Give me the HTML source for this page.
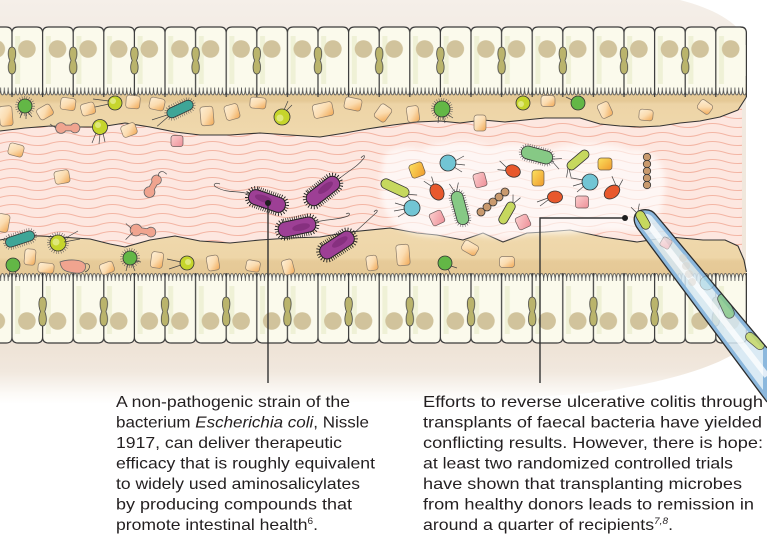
<!DOCTYPE html>
<html><head><meta charset="utf-8">
<style>
html,body{margin:0;padding:0;background:#fff;width:767px;height:555px;overflow:hidden}
svg{display:block}
.t{font-family:"Liberation Sans",Arial,sans-serif;font-size:15.8px;fill:#231f20}
.p{fill:url(#pg);stroke:#8a7a68;stroke-width:.7}
.pk{fill:url(#pkg);stroke:#6a5a5a;stroke-width:.7}
.ys{fill:url(#ysg);stroke:#6a5a4a;stroke-width:.7}
.fl{fill:none;stroke:#444;stroke-width:.7}
.hr{fill:none;stroke:#555;stroke-width:3;stroke-dasharray:.5 1.8}
.ol{stroke:#333;stroke-width:.8}
</style></head><body>
<svg width="767" height="555" viewBox="0 0 767 555" xmlns="http://www.w3.org/2000/svg">
<defs>
<linearGradient id="bg" gradientUnits="userSpaceOnUse" x1="0" y1="0" x2="0" y2="404">
<stop offset="0" stop-color="#f5efe9"/>
<stop offset="0.1" stop-color="#f2ebe3"/>
<stop offset="0.855" stop-color="#eee3d6"/>
<stop offset="0.92" stop-color="#f1e8de"/>
<stop offset="0.975" stop-color="#fcfaf7"/>
<stop offset="1" stop-color="#ffffff"/>
</linearGradient>
<linearGradient id="mt" gradientUnits="userSpaceOnUse" x1="0" y1="84" x2="0" y2="140">
<stop offset="0" stop-color="#e3c793"/>
<stop offset="0.3" stop-color="#e5c996"/>
<stop offset="0.36" stop-color="#edd4a6"/>
<stop offset="1" stop-color="#f0d9ae"/>
</linearGradient>
<linearGradient id="mb" gradientUnits="userSpaceOnUse" x1="0" y1="228" x2="0" y2="285">
<stop offset="0" stop-color="#f0d9ae"/>
<stop offset="0.52" stop-color="#eed6a8"/>
<stop offset="0.58" stop-color="#e7cb99"/>
<stop offset="1" stop-color="#e3c693"/>
</linearGradient>
<linearGradient id="pg" x1="0" y1="0" x2="1" y2="1">
<stop offset="0" stop-color="#fdefd6"/>
<stop offset="0.5" stop-color="#fbdcb0"/>
<stop offset="1" stop-color="#f1a752"/>
</linearGradient>
<linearGradient id="pkg" x1="0" y1="0" x2="1" y2="1">
<stop offset="0" stop-color="#fbd0cf"/>
<stop offset="1" stop-color="#ee8f98"/>
</linearGradient>
<linearGradient id="ysg" x1="0" y1="0" x2="1" y2="1">
<stop offset="0" stop-color="#fbe260"/>
<stop offset="1" stop-color="#f09a2c"/>
</linearGradient>
<pattern id="wv" patternUnits="userSpaceOnUse" x="0" y="112" width="50" height="9">
<path d="M0,4.5 Q12.5,0.5 25,4.5 T50,4.5" fill="none" stroke="#f3b5a4" stroke-width="1.1"/>
</pattern>
<pattern id="tc" patternUnits="userSpaceOnUse" x="-3.3" y="0" width="61.2" height="400">
<path fill="#fbfaec" d="M0,27 L9.3,27 Q15.3,27 15.3,33 Q15.3,27 21.3,27 L39.9,27 Q45.9,27 45.9,33 Q45.9,27 51.9,27 L61.2,27 L61.2,88 L0,88 Z"/>
<rect x="18.5" y="36" width="5" height="48" fill="#eff1d6"/>
<rect x="49.1" y="36" width="5" height="48" fill="#eff1d6"/>
<circle cx="30.2" cy="49" r="8.8" fill="#d1c39c"/>
<circle cx="-0.4" cy="49" r="8.8" fill="#d1c39c"/>
<circle cx="60.8" cy="49" r="8.8" fill="#d1c39c"/>
<path fill="#fbfaec" stroke="#555" stroke-width=".8" d="M0,87.5 c0,10 3.825,10 3.825,0 c0,10 3.825,10 3.825,0 c0,10 3.825,10 3.825,0 c0,10 3.825,10 3.825,0 c0,10 3.825,10 3.825,0 c0,10 3.825,10 3.825,0 c0,10 3.825,10 3.825,0 c0,10 3.825,10 3.825,0 c0,10 3.825,10 3.825,0 c0,10 3.825,10 3.825,0 c0,10 3.825,10 3.825,0 c0,10 3.825,10 3.825,0 c0,10 3.825,10 3.825,0 c0,10 3.825,10 3.825,0 c0,10 3.825,10 3.825,0 c0,10 3.825,10 3.825,0"/>
<path fill="none" stroke="#3a3a3a" stroke-width="1.2" d="M0,27 L9.3,27 Q15.3,27 15.3,33 Q15.3,27 21.3,27 L39.9,27 Q45.9,27 45.9,33 Q45.9,27 51.9,27 L61.2,27 M15.3,33 L15.3,97 M45.9,33 L45.9,97"/>
<path fill="#bab46c" stroke="#444" stroke-width=".8" d="M15.3,47 C19.5,47 20,55 17.5,60.5 C20,66 19.5,74 15.3,74 C11.1,74 10.6,66 13.1,60.5 C10.6,55 11.1,47 15.3,47 Z"/>
</pattern>
<pattern id="bc" patternUnits="userSpaceOnUse" x="-3.3" y="0" width="61.2" height="400">
<path fill="#fbfaec" d="M0,281 L61.2,281 L61.2,343 L51.9,343 Q45.9,343 45.9,337 Q45.9,343 39.9,343 L21.3,343 Q15.3,343 15.3,337 Q15.3,343 9.3,343 L0,343 Z"/>
<rect x="18.5" y="286" width="5" height="48" fill="#eff1d6"/>
<rect x="49.1" y="286" width="5" height="48" fill="#eff1d6"/>
<circle cx="30.2" cy="321" r="8.8" fill="#d1c39c"/>
<circle cx="-0.4" cy="321" r="8.8" fill="#d1c39c"/>
<circle cx="60.8" cy="321" r="8.8" fill="#d1c39c"/>
<path fill="#fbfaec" stroke="#555" stroke-width=".8" d="M0,281 c0,-10 3.825,-10 3.825,0 c0,-10 3.825,-10 3.825,0 c0,-10 3.825,-10 3.825,0 c0,-10 3.825,-10 3.825,0 c0,-10 3.825,-10 3.825,0 c0,-10 3.825,-10 3.825,0 c0,-10 3.825,-10 3.825,0 c0,-10 3.825,-10 3.825,0 c0,-10 3.825,-10 3.825,0 c0,-10 3.825,-10 3.825,0 c0,-10 3.825,-10 3.825,0 c0,-10 3.825,-10 3.825,0 c0,-10 3.825,-10 3.825,0 c0,-10 3.825,-10 3.825,0 c0,-10 3.825,-10 3.825,0 c0,-10 3.825,-10 3.825,0"/>
<path fill="none" stroke="#3a3a3a" stroke-width="1.2" d="M0,343 L9.3,343 Q15.3,343 15.3,337 Q15.3,343 21.3,343 L39.9,343 Q45.9,343 45.9,337 Q45.9,343 51.9,343 L61.2,343 M15.3,273 L15.3,337 M45.9,273 L45.9,337"/>
<path fill="#bab46c" stroke="#444" stroke-width=".8" d="M45.9,297 C50.1,297 50.6,305 48.1,311.5 C50.6,318 50.1,326 45.9,326 C41.7,326 41.2,318 43.7,311.5 C41.2,305 41.7,297 45.9,297 Z"/>
</pattern>
<filter id="bl" x="-10%" y="-20%" width="120%" height="140%"><feGaussianBlur stdDeviation="3"/></filter>
<clipPath id="ndc"><path d="M656,215 L767,348 L767,402 L638,229 C632,221 633,212 642,210 C648,209 653,211 656,215 Z"/></clipPath>
</defs>

<!-- background tissue -->
<path d="M0,0 L680,0 C712,8 738,22 746,40 L746,345 C728,362 680,380 600,392 C500,402 300,404 0,404 Z" fill="url(#bg)"/>

<!-- lumen -->
<rect x="0" y="108" width="742" height="145" fill="#fde7e0"/>
<rect x="0" y="108" width="742" height="145" fill="url(#wv)"/>

<!-- top mucus -->
<path fill="url(#mt)" d="M0,84 L746.4,84 L746.4,97 L738,110 L720,117 L700,121 L680,123 L660,126 L640,127 L620,126 L600,124 L580,118 L545,118 L525,120 L505,122 L483,120 L460,123 L440,121 L417,122 L393,125 L367,129 L345,133 L320,137 L290,135 L260,133 L230,135 L200,135 L175,132 L150,127 L125,123 L100,127 L75,127 L50,126 L25,128 L0,131 Z"/>
<path fill="none" stroke="#333" stroke-width="1.1" stroke-linejoin="round" d="M746.4,97 L738,110 L720,117 L700,121 L680,123 L660,126 L640,127 L620,126 L600,124 L580,118 L545,118 L525,120 L505,122 L483,120 L460,123 L440,121 L417,122 L393,125 L367,129 L345,133 L320,137 L290,135 L260,133 L230,135 L200,135 L175,132 L150,127 L125,123 L100,127 L75,127 L50,126 L25,128 L0,131"/>

<!-- bottom mucus -->
<path fill="url(#mb)" d="M0,240 L20,236 L40,236 L60,237 L90,239 L110,244 L125,247 L150,240 L175,236 L200,241 L230,243 L260,240 L290,238 L320,237 L350,232 L390,228 L417,233 L437,235 L463,240 L483,233 L503,242 L527,233 L545,232 L570,230 L603,237 L637,242 L670,237 L703,240 L725,240 L738,246 L744,260 L746.4,272 L746.4,285 L0,285 Z"/>
<path fill="none" stroke="#333" stroke-width="1.1" stroke-linejoin="round" d="M0,240 L20,236 L40,236 L60,237 L90,239 L110,244 L125,247 L150,240 L175,236 L200,241 L230,243 L260,240 L290,238 L320,237 L350,232 L390,228 L417,233 L437,235 L463,240 L483,233 L503,242 L527,233 L545,232 L570,230 L603,237 L637,242 L670,237 L703,240 L725,240 L738,246 L744,260 L746.4,272"/>

<!-- cells -->
<rect x="0" y="20" width="745.8" height="80" fill="url(#tc)"/>
<rect x="741.5" y="45" width="4.5" height="31" fill="#fbfaec"/>
<path d="M740.4,27 Q746.4,27 746.4,33 L746.4,97" fill="none" stroke="#3a3a3a" stroke-width="1.2"/>
<rect x="0" y="268" width="745.8" height="80" fill="url(#bc)"/>
<path d="M746.4,273 L746.4,337 Q746.4,343 740.4,343" fill="none" stroke="#3a3a3a" stroke-width="1.2"/>

<!-- particles -->
<g>
<rect class="p" x="-6.5" y="-10" width="13" height="20" rx="3" transform="translate(6 116) rotate(-5)"/>
<rect class="p" x="-7.5" y="-6" width="15" height="12" rx="3" transform="translate(45 112) rotate(-30)"/>
<rect class="p" x="-7.5" y="-6" width="15" height="12" rx="3" transform="translate(68 104) rotate(8)"/>
<rect class="p" x="-7" y="-6" width="14" height="12" rx="3" transform="translate(88 109) rotate(-15)"/>
<rect class="p" x="-7" y="-6.5" width="14" height="13" rx="3" transform="translate(133 102) rotate(5)"/>
<rect class="p" x="-7.5" y="-6" width="15" height="12" rx="3" transform="translate(157 104) rotate(12)"/>
<rect class="p" x="-7.5" y="-6" width="15" height="12" rx="3" transform="translate(129 130) rotate(-20)"/>
<rect class="p" x="-6.5" y="-9.5" width="13" height="19" rx="3" transform="translate(207 116) rotate(-5)"/>
<rect class="p" x="-7" y="-7.5" width="14" height="15" rx="3" transform="translate(232 112) rotate(-15)"/>
<rect class="p" x="-8" y="-5.5" width="16" height="11" rx="3" transform="translate(258 103) rotate(5)"/>
<rect class="p" x="-10" y="-7" width="20" height="14" rx="3" transform="translate(323 110) rotate(-12)"/>
<rect class="p" x="-8.5" y="-6" width="17" height="12" rx="3" transform="translate(353 104) rotate(12)"/>
<rect class="p" x="-6.5" y="-8" width="13" height="16" rx="3" transform="translate(383 113) rotate(35)"/>
<rect class="p" x="-6" y="-8" width="12" height="16" rx="3" transform="translate(413 114) rotate(-8)"/>
<rect class="p" x="-6" y="-8" width="12" height="16" rx="3" transform="translate(480 123)"/>
<rect class="p" x="-7" y="-5.5" width="14" height="11" rx="3" transform="translate(548 101)"/>
<rect class="p" x="-6" y="-7.5" width="12" height="15" rx="3" transform="translate(605 110) rotate(-25)"/>
<rect class="p" x="-7" y="-5.5" width="14" height="11" rx="3" transform="translate(646 115) rotate(5)"/>
<rect class="p" x="-7" y="-5.5" width="14" height="11" rx="3" transform="translate(705 107) rotate(35)"/>
<rect class="p" x="-7.5" y="-6" width="15" height="12" rx="3" transform="translate(16 150) rotate(15)"/>
<rect class="p" x="-7.5" y="-6.5" width="15" height="13" rx="3" transform="translate(62 177) rotate(-10)"/>
<rect class="p" x="-6" y="-9" width="12" height="18" rx="3" transform="translate(3 223) rotate(10)"/>
<rect class="pk" x="-6" y="-5.5" width="12" height="11" rx="2.5" transform="translate(177 141)"/>
<rect class="p" x="-5.5" y="-8" width="11" height="16" rx="3" transform="translate(30 257) rotate(5)"/>
<rect class="p" x="-8" y="-5" width="16" height="10" rx="3" transform="translate(46 268) rotate(5)"/>
<rect class="p" x="-7" y="-5.5" width="14" height="11" rx="3" transform="translate(107 268) rotate(-20)"/>
<rect class="p" x="-6" y="-8" width="12" height="16" rx="3" transform="translate(157 260) rotate(8)"/>
<rect class="p" x="-6" y="-7.5" width="12" height="15" rx="3" transform="translate(213 263) rotate(-10)"/>
<rect class="p" x="-7" y="-5.5" width="14" height="11" rx="3" transform="translate(253 266) rotate(10)"/>
<rect class="p" x="-5.5" y="-7.5" width="11" height="15" rx="3" transform="translate(288 267) rotate(-15)"/>
<rect class="p" x="-5.5" y="-7.5" width="11" height="15" rx="3" transform="translate(372 263) rotate(-8)"/>
<rect class="p" x="-6.5" y="-10.5" width="13" height="21" rx="3" transform="translate(403 255) rotate(-5)"/>
<rect class="p" x="-8" y="-5.5" width="16" height="11" rx="3" transform="translate(470 248) rotate(30)"/>
<rect class="p" x="-7.5" y="-5.5" width="15" height="11" rx="3" transform="translate(507 262)"/>
</g>

<!-- small bacteria in mucus -->
<g>
<!-- green round -->
<g transform="translate(25 106)"><circle r="8.5" class="hr"/><circle r="7" fill="#63b746" class="ol"/><path class="fl" d="M-3,6 l-2,6 M1,7 l0,6 M3,6 l4,5"/></g>
<g transform="translate(442 109)"><circle r="9.5" class="hr"/><circle r="8" fill="#63b746" class="ol"/><path class="fl" d="M-3,7 l-1,7 M1,7 l2,7 M5,5 l6,4"/></g>
<g transform="translate(578 103)"><circle r="7" fill="#63b746" class="ol"/><path class="fl" d="M-6,-3 l-6,-3"/></g>
<g transform="translate(13 265)"><circle r="7" fill="#63b746" class="ol"/><path class="fl" d="M-3,6 l-1,6 M2,6 l2,6"/></g>
<g transform="translate(130 258)"><circle r="8.5" class="hr"/><circle r="7" fill="#63b746" class="ol"/><path class="fl" d="M-2,6 l-2,7 M2,6 l3,7 M5,3 l6,1"/></g>
<g transform="translate(445 263)"><circle r="7" fill="#63b746" class="ol"/><path class="fl" d="M3,6 l3,6 M6,3 l6,2"/></g>
<!-- yellow-green round -->
<g transform="translate(115 103)"><circle r="7" fill="#c6d52c" class="ol"/><circle cx="-2" cy="-2" r="3" fill="#dfe87a"/><path class="fl" d="M-6,-2 l-16,-2 M-6,1 l-14,3"/></g>
<g transform="translate(100 127)"><circle r="7.5" fill="#c6d52c" class="ol"/><circle cx="-2" cy="-2" r="3" fill="#dfe87a"/><path class="fl" d="M-4,6 l-4,10 M0,7 l-1,10 M3,6 l2,9"/></g>
<g transform="translate(282 117)"><circle r="8" fill="#c6d52c" class="ol"/><circle cx="-2" cy="1" r="3.5" fill="#dfe87a"/><path class="fl" d="M2,-7 l4,-9 M4,-6 l6,-6"/></g>
<g transform="translate(523 103)"><circle r="7" fill="#c6d52c" class="ol"/><circle cx="-2" cy="1" r="3" fill="#dfe87a"/></g>
<g transform="translate(58 243)"><circle r="9.5" class="hr"/><circle r="8" fill="#c6d52c" class="ol"/><circle cx="-2" cy="-1" r="3.5" fill="#dfe87a"/><path class="fl" d="M6,-4 l14,-8 M6,-1 l16,-3"/></g>
<g transform="translate(187 263)"><circle r="7" fill="#c6d52c" class="ol"/><circle cx="1" cy="-1" r="3" fill="#dfe87a"/><path class="fl" d="M-6,-1 l-14,-3 M-6,2 l-12,4"/></g>
<!-- teal rods -->
<g transform="translate(180 109) rotate(-25)"><rect x="-15" y="-6.5" width="30" height="13" rx="6.5" class="hr"/><rect x="-14" y="-5" width="28" height="10" rx="5" fill="#3ea597" class="ol"/><path class="fl" d="M-14,2 l-14,4 M-14,0 l-16,-2"/></g>
<g transform="translate(20 239) rotate(-18)"><rect x="-16" y="-6.5" width="32" height="13" rx="6.5" class="hr"/><rect x="-15" y="-5" width="30" height="10" rx="5" fill="#3ea597" class="ol"/></g>
<!-- pink dumbbells -->
<g transform="translate(68 128)"><g stroke="#666" stroke-width="1.6" fill="#666"><circle cx="-7" cy="0" r="5"/><circle cx="7" cy="0" r="4.5"/><rect x="-7" y="-2.5" width="14" height="5"/></g><g fill="#f0a48f"><circle cx="-7" cy="0" r="5"/><circle cx="7" cy="0" r="4.5"/><rect x="-7" y="-2.5" width="14" height="5"/></g><path class="fl" d="M-12,0 l-6,-4"/></g>
<g transform="translate(153 186) rotate(-60)"><g stroke="#666" stroke-width="1.6" fill="#666"><circle cx="-7" cy="0" r="5"/><circle cx="7" cy="0" r="4.5"/><rect x="-7" y="-2.5" width="14" height="5"/></g><g fill="#f0a48f"><circle cx="-7" cy="0" r="5"/><circle cx="7" cy="0" r="4.5"/><rect x="-7" y="-2.5" width="14" height="5"/></g><path class="fl" d="M11,0 c4,-3 8,0 6,6"/></g>
<g transform="translate(143 231) rotate(8)"><g stroke="#666" stroke-width="1.6" fill="#666"><circle cx="-7" cy="0" r="5.5"/><circle cx="8" cy="0" r="4.5"/><rect x="-7" y="-2.5" width="15" height="5"/></g><g fill="#f0a48f"><circle cx="-7" cy="0" r="5.5"/><circle cx="8" cy="0" r="4.5"/><rect x="-7" y="-2.5" width="15" height="5"/></g><path class="fl" d="M-12,-1 l-6,-4 M-10,3 l-6,8"/></g>
<g transform="translate(73 267)"><path d="M-13,-5 C-5,-8 8,-8 12,-3 C14,3 10,7 2,6 C-6,5 -12,4 -13,-5 Z" fill="#f0a48f" stroke="#666" stroke-width=".8"/><path class="fl" d="M12,-3 c6,-2 6,6 0,8"/></g>
</g>

<!-- cloud -->
<path filter="url(#bl)" fill="#ffffff" opacity="0.65" d="M383,165 C380,150 400,143 420,150 C440,140 470,138 490,147 C510,140 530,145 550,150 C575,140 610,142 630,150 C660,148 668,170 664,195 C662,215 655,226 645,230 C620,234 600,228 585,232 C560,236 540,232 520,236 C490,240 470,232 450,236 C420,238 395,232 388,215 C378,200 380,180 383,165 Z"/>

<!-- cloud microbes -->
<g>
<g transform="translate(395 188) rotate(25)"><rect x="-15" y="-5" width="30" height="10" rx="5" fill="#c6d85e" class="ol"/><path class="fl" d="M15,0 l8,-3 M15,2 l8,4"/></g>
<rect class="ys" x="-7" y="-7" width="14" height="14" rx="3" transform="translate(417 170) rotate(-20)"/>
<g transform="translate(448 163)"><circle r="8" fill="#72c5d4" class="ol"/><path class="fl" d="M7,-2 l9,-5 M7,1 l10,1 M6,4 l8,5"/></g>
<rect class="pk" x="-6" y="-7" width="12" height="14" rx="2.5" transform="translate(480 180) rotate(-15)"/>
<g transform="translate(437 192) rotate(-30)"><ellipse rx="6.5" ry="8.5" fill="#e8582c" class="ol"/><path class="fl" d="M-2,-8 l-4,-8 M1,-8 l2,-8"/></g>
<g transform="translate(412 208)"><circle r="8" fill="#72c5d4" class="ol"/><path class="fl" d="M-7,-2 l-10,-3 M-7,1 l-11,2 M-6,4 l-8,5"/></g>
<rect class="pk" x="-6.5" y="-6.5" width="13" height="13" rx="2.5" transform="translate(437 218) rotate(-25)"/>
<g transform="translate(460 208) rotate(75)"><rect x="-18" y="-7" width="36" height="14" rx="7" class="hr"/><rect x="-17" y="-6" width="34" height="12" rx="6" fill="#86c985" class="ol"/><path class="fl" d="M-17,-1 l-8,-4 M-17,1 l-9,3"/></g>
<g fill="#c99a6e" class="ol"><circle cx="481" cy="212" r="4"/><circle cx="487" cy="207" r="4"/><circle cx="493" cy="202" r="4"/><circle cx="499" cy="197" r="4"/><circle cx="505" cy="192" r="4"/></g>
<g transform="translate(507 213) rotate(-60)"><rect x="-12" y="-4.5" width="24" height="9" rx="4.5" fill="#c6d85e" class="ol"/><path class="fl" d="M12,0 l7,-4 M12,1 l8,3"/></g>
<rect class="pk" x="-6.5" y="-6.5" width="13" height="13" rx="2.5" transform="translate(523 222) rotate(-25)"/>
<g transform="translate(537 155) rotate(15)"><rect x="-17" y="-7.5" width="34" height="15" rx="7.5" class="hr"/><rect x="-16" y="-6.5" width="32" height="13" rx="6.5" fill="#86c985" class="ol"/><path class="fl" d="M16,0 l9,-3 M16,2 l9,6"/></g>
<g transform="translate(513 171) rotate(20)"><ellipse rx="7.5" ry="6" fill="#e8582c" class="ol"/><path class="fl" d="M-7,-1 l-9,-4 M-7,2 l-8,2"/></g>
<rect class="ys" x="-6" y="-8" width="12" height="16" rx="3" transform="translate(538 178)"/>
<g transform="translate(578 160) rotate(-40)"><rect x="-13" y="-4.5" width="26" height="9" rx="4.5" fill="#c6d85e" class="ol"/><path class="fl" d="M-13,0 l-7,6 M-13,2 l-4,8"/></g>
<rect class="ys" x="-7" y="-6" width="14" height="12" rx="3" transform="translate(605 164)"/>
<g transform="translate(590 182)"><circle r="8" fill="#72c5d4" class="ol"/><path class="fl" d="M-7,-2 l-11,-2 M-7,1 l-10,3 M-6,4 l-7,6"/></g>
<g transform="translate(555 197)"><ellipse rx="7.5" ry="6" fill="#e8582c" class="ol"/><path class="fl" d="M-7,1 l-11,4 M-7,3 l-8,6"/></g>
<rect class="pk" x="-6.5" y="-6" width="13" height="12" rx="2.5" transform="translate(582 202)"/>
<g transform="translate(612 192) rotate(-35)"><ellipse rx="8.5" ry="6" fill="#e8582c" class="ol"/><path class="fl" d="M8,0 l8,-4 M7,-3 l2,-10"/></g>
<g fill="#c99a6e" class="ol"><circle cx="647" cy="157" r="3.7"/><circle cx="647" cy="164" r="3.7"/><circle cx="647" cy="171" r="3.7"/><circle cx="647" cy="178" r="3.7"/><circle cx="647" cy="185" r="3.7"/></g>
</g>

<!-- E. coli -->
<g>
<path class="fl" d="M249,194 C238,190 228,194 216,187 C212,185 215,182 220,184"/>
<path class="fl" d="M340,178 C350,170 358,166 364,158 C366,154 362,156 361,158"/>
<path class="fl" d="M316,222 C328,219 338,220 348,216 C351,214 349,212 346,214"/>
<path class="fl" d="M354,233 C362,226 368,220 376,213 C379,210 376,209 374,212"/>
<g transform="translate(267 201) rotate(19)"><rect x="-19" y="-7.5" width="38" height="15" rx="7" fill="none" stroke="#1e1e1e" stroke-width="7" stroke-dasharray=".7 1.5"/><rect x="-19" y="-7.5" width="38" height="15" rx="7" fill="#9d3f95" stroke="#222" stroke-width="1"/><ellipse cx="-4" cy="-1" rx="9" ry="3.5" fill="#86307f"/></g>
<g transform="translate(323 191) rotate(-38)"><rect x="-19" y="-7.5" width="38" height="15" rx="7" fill="none" stroke="#1e1e1e" stroke-width="7" stroke-dasharray=".7 1.5"/><rect x="-19" y="-7.5" width="38" height="15" rx="7" fill="#9d3f95" stroke="#222" stroke-width="1"/><ellipse cx="4" cy="-1" rx="9" ry="3.5" fill="#86307f"/></g>
<g transform="translate(297 227) rotate(-12)"><rect x="-19" y="-7.5" width="38" height="15" rx="7" fill="none" stroke="#1e1e1e" stroke-width="7" stroke-dasharray=".7 1.5"/><rect x="-19" y="-7.5" width="38" height="15" rx="7" fill="#9d3f95" stroke="#222" stroke-width="1"/><ellipse cx="4" cy="1" rx="9" ry="3.5" fill="#86307f"/></g>
<g transform="translate(337 245) rotate(-33)"><rect x="-19" y="-7.5" width="38" height="15" rx="7" fill="none" stroke="#1e1e1e" stroke-width="7" stroke-dasharray=".7 1.5"/><rect x="-19" y="-7.5" width="38" height="15" rx="7" fill="#9d3f95" stroke="#222" stroke-width="1"/><ellipse cx="4" cy="-1" rx="9" ry="3.5" fill="#86307f"/></g>
</g>

<!-- needle -->
<g>
<path d="M656,215 L767,348 L767,402 L638,229 C632,221 633,212 642,210 C648,209 653,211 656,215 Z" fill="#d3e6f2" opacity="0.85"/>
<g clip-path="url(#ndc)">
<path d="M656,215 L767,348 L767,402 L638,229 C632,221 633,212 642,210 C648,209 653,211 656,215 Z" fill="none" stroke="#8cb8dd" stroke-width="8"/>
<line x1="646" y1="221" x2="767" y2="376" stroke="#ffffff" stroke-width="6" opacity="0.75"/>
<g opacity="0.45">
<rect class="pk" x="-5" y="-5" width="10" height="10" rx="2" transform="translate(666 243) rotate(30)"/>
<g fill="#d8d0c8"><circle cx="683" cy="258" r="4"/><circle cx="686" cy="266" r="4"/><circle cx="689" cy="274" r="4"/><circle cx="692" cy="282" r="4"/></g>
<circle cx="707" cy="283" r="7" fill="#9fd6e2" stroke="#555" stroke-width=".6"/>
</g>
<g opacity="0.8">
<g transform="translate(726 306) rotate(65)"><rect x="-13" y="-5" width="26" height="10" rx="5" fill="#86c985" class="ol"/></g>
<rect class="ys" x="-6" y="-6" width="12" height="12" rx="2" transform="translate(752 317) rotate(10)" opacity="0.7"/>
<g transform="translate(755 341) rotate(40)"><rect x="-11" y="-4.5" width="22" height="9" rx="4.5" fill="#c6d85e" class="ol"/></g>
</g>
</g>
<path d="M656,215 L767,348 M767,402 L638,229 C632,221 633,212 642,210 C648,209 653,211 656,215" fill="none" stroke="#2c2c2c" stroke-width="1.3"/>
<g transform="translate(643 220) rotate(60)"><rect x="-10" y="-4.5" width="20" height="9" rx="4.5" fill="#c6d85e" class="ol"/><path class="fl" d="M-10,0 l-6,-5 M-10,2 l-7,2"/></g>
</g>

<!-- connectors -->
<g stroke="#333" stroke-width="1.4" fill="none">
<path d="M268,203 L268,383"/>
<path d="M625,218 L540,218 L540,383"/>
</g>
<circle cx="268" cy="203" r="3" fill="#1e1e1e"/>
<circle cx="625" cy="218" r="3" fill="#1e1e1e"/>

<!-- text -->
<text class="t" x="116" y="407" textLength="234" lengthAdjust="spacingAndGlyphs">A non-pathogenic strain of the</text>
<text class="t" x="116" y="427.5" textLength="253" lengthAdjust="spacingAndGlyphs">bacterium <tspan font-style="italic">Escherichia coli</tspan>, Nissle</text>
<text class="t" x="116" y="448" textLength="226" lengthAdjust="spacingAndGlyphs">1917, can deliver therapeutic</text>
<text class="t" x="116" y="468.5" textLength="259" lengthAdjust="spacingAndGlyphs">efficacy that is roughly equivalent</text>
<text class="t" x="116" y="489" textLength="244" lengthAdjust="spacingAndGlyphs">to widely used aminosalicylates</text>
<text class="t" x="116" y="509.5" textLength="236" lengthAdjust="spacingAndGlyphs">by producing compounds that</text>
<text class="t" x="116" y="530" textLength="202" lengthAdjust="spacingAndGlyphs">promote intestinal health<tspan font-size="9" dy="-6">6</tspan><tspan dy="6">.</tspan></text>

<text class="t" x="423" y="407" textLength="340" lengthAdjust="spacingAndGlyphs">Efforts to reverse ulcerative colitis through</text>
<text class="t" x="423" y="427.5" textLength="339" lengthAdjust="spacingAndGlyphs">transplants of faecal bacteria have yielded</text>
<text class="t" x="423" y="448" textLength="340" lengthAdjust="spacingAndGlyphs">conflicting results. However, there is hope:</text>
<text class="t" x="423" y="468.5" textLength="310" lengthAdjust="spacingAndGlyphs">at least two randomized controlled trials</text>
<text class="t" x="423" y="489" textLength="319" lengthAdjust="spacingAndGlyphs">have shown that transplanting microbes</text>
<text class="t" x="423" y="509.5" textLength="331" lengthAdjust="spacingAndGlyphs">from healthy donors leads to remission in</text>
<text class="t" x="423" y="530" textLength="250" lengthAdjust="spacingAndGlyphs">around a quarter of recipients<tspan font-size="9" dy="-6" font-style="italic">7,8</tspan><tspan dy="6">.</tspan></text>
</svg>
</body></html>
